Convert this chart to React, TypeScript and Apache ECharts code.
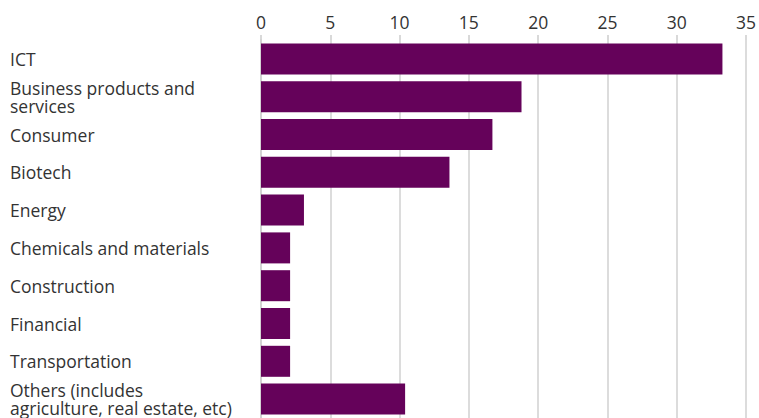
import React, { useEffect, useRef } from "react";
import * as echarts from "echarts";

const categories = [
  "ICT",
  "Business products and\nservices",
  "Consumer",
  "Biotech",
  "Energy",
  "Chemicals and materials",
  "Construction",
  "Financial",
  "Transportation",
  "Others (includes\nagriculture, real estate, etc)",
];
const values = [33.3, 18.8, 16.7, 13.6, 3.1, 2.1, 2.1, 2.1, 2.1, 10.4];
const xTicks = [0, 5, 10, 15, 20, 25, 30, 35];

export default function App() {
  const ref = useRef<HTMLDivElement>(null);
  useEffect(() => {
    document.body.style.margin = "0";
    const chart = echarts.init(ref.current!, undefined, { renderer: "svg" });
    chart.setOption({
      animation: false,
      grid: { left: 261, right: 11, top: 40, bottom: -2, containLabel: false },
      xAxis: {
        type: "value",
        position: "top",
        min: xTicks[0],
        max: xTicks[xTicks.length - 1],
        interval: 5,
        axisLine: { show: false },
        axisTick: { show: true, length: 5, lineStyle: { color: "#cccccc", width: 1.5 } },
        axisLabel: {
          margin: 9,
          fontSize: 17.5,
          color: "#333333",
          fontFamily: "'Open Sans', sans-serif",
        },
        splitLine: { show: true, lineStyle: { color: "#d0d0d0", width: 1.5 } },
      },
      yAxis: {
        type: "category",
        inverse: true,
        data: categories,
        axisLine: { show: true, lineStyle: { color: "#d0d0d0", width: 1.5 } },
        axisTick: { show: false },
        axisLabel: {
          align: "left",
          margin: 251,
          fontSize: 17.5,
          lineHeight: 18,
          color: "#333333",
          fontFamily: "'Open Sans', sans-serif",
        },
      },
      series: [
        {
          type: "bar",
          data: values,
          barCategoryGap: "18%",
          itemStyle: { color: "#65025A" },
        },
      ],
    });
    return () => chart.dispose();
  }, []);
  return <div ref={ref} style={{ width: 759, height: 418 }} />;
}
